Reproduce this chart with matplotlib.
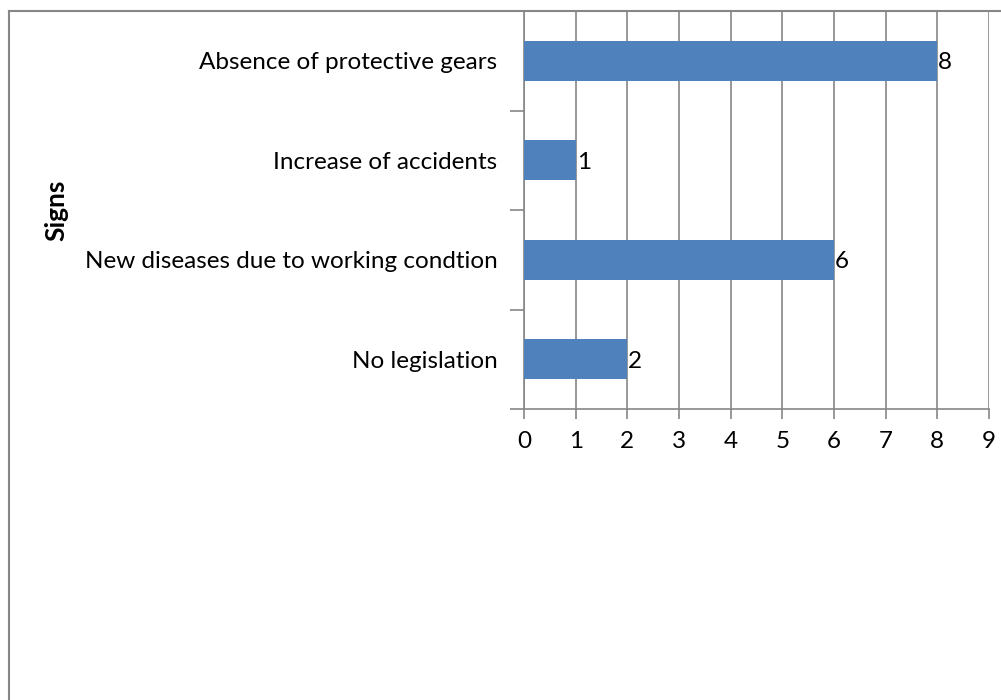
import matplotlib
matplotlib.use("Agg")
import matplotlib.pyplot as plt
from matplotlib.lines import Line2D
import numpy as np

categories = ["Absence of protective gears", "Increase of accidents",
              "New diseases due to working condtion", "No legislation"]
values = [8, 1, 6, 2]
x_ticks = [0, 1, 2, 3, 4, 5, 6, 7, 8, 9]

plt.rcParams['font.family'] = ['Lato', 'DejaVu Sans']

W, H = 1001, 700
fig = plt.figure(figsize=(W / 100, H / 100), dpi=100)

# outer chart frame (left and top edges)
frame_col = "#868686"
fig.add_artist(Line2D([9 / W, 9 / W], [0, 1 - 11 / H], transform=fig.transFigure,
                      color=frame_col, lw=1.5))
fig.add_artist(Line2D([9 / W, 1], [1 - 11 / H, 1 - 11 / H], transform=fig.transFigure,
                      color=frame_col, lw=1.5))

left, right, top, bottom = 524 / W, 989 / W, 1 - 11 / H, 1 - 409 / H
ax = fig.add_axes([left, bottom, right - left, top - bottom])

fs = 17.5
n = len(categories)
ypos = np.arange(n)[::-1]
ax.barh(ypos, values, height=0.4, color="#4F81BD", zorder=3)
for y, v in zip(ypos, values):
    ax.text(v + 0.02, y - 0.02, str(v), va="center", ha="left", fontsize=fs, zorder=4)

ax.set_xlim(0, 9)
ax.set_ylim(-0.5, n - 0.5)
ax.set_xticks(x_ticks)
ax.set_xticklabels([str(t) for t in x_ticks], fontsize=fs)
ax.xaxis.grid(True, color=frame_col, lw=1.2, zorder=0)
ax.tick_params(axis="x", length=7, width=1.2, color=frame_col, pad=9)

# category labels centred on bars, tick marks at band boundaries
ax.set_yticks(ypos)
ax.set_yticklabels(categories, fontsize=fs)
ax.tick_params(axis="y", which="major", length=0, pad=19)
ax.set_yticks(np.arange(-0.5, n, 1.0), minor=True)
ax.tick_params(axis="y", which="minor", length=10, width=1.2, color=frame_col)

for s in ["top", "right"]:
    ax.spines[s].set_visible(False)
for s in ["left", "bottom"]:
    ax.spines[s].set_color(frame_col)
    ax.spines[s].set_linewidth(1.2)

fig.text(56 / W, 1 - 210 / H, "Signs", rotation=90, fontsize=19, fontweight="bold",
         ha="center", va="center")

fig.savefig("out.png", dpi=100)
